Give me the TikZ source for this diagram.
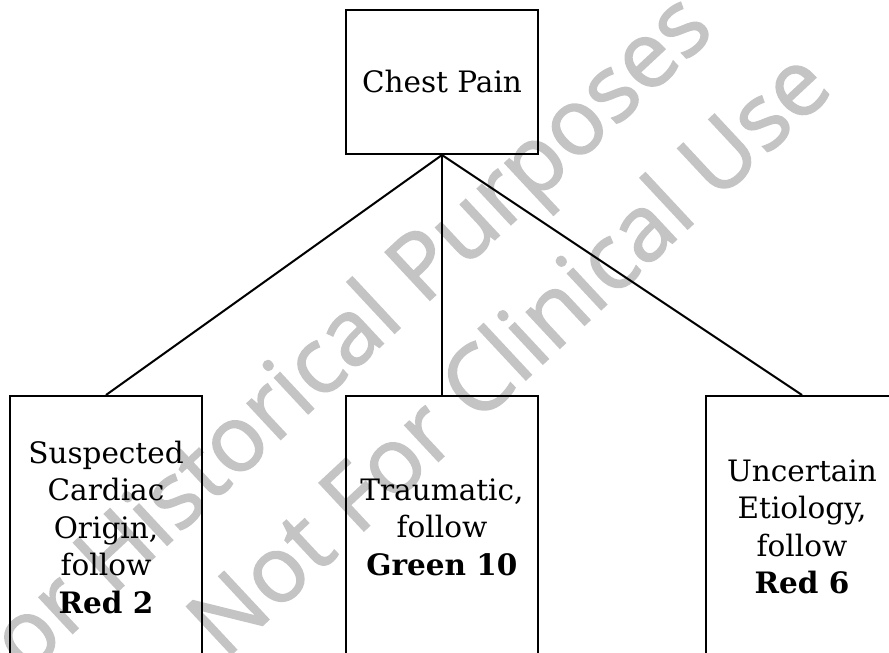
\documentclass[tikz,border=0pt]{standalone}
\usepackage{fontspec}
\setmainfont{DejaVu Serif}
\newfontfamily\wmfont[FakeBold=1.6]{Open Sans}
\begin{document}
\begin{tikzpicture}[x=1pt,y=-1pt]
        \useasboundingbox (0,0) rectangle (889,653);
        \clip (0,0) rectangle (889,653);

        \tikzstyle{watermark}=[text=black!23, font=\wmfont\fontsize{92}{124}\selectfont, rotate=43, anchor=base, inner sep=0pt]
        \node[watermark] (wmtop) at (354,371) {For Historical Purposes};
        \node[watermark] (wmbot) at (530,376) {Not For Clinical Use};

        \tikzstyle{box}=[rectangle, draw=black, line width=2pt, minimum width=192pt, align=center, inner sep=0pt, text=black, font=\fontsize{29.5}{37.5}\selectfont]
        \tikzstyle{edge}=[black, line width=2pt]

        \node[box, minimum height=144pt] (pain)      at (442,82)  {Chest Pain};
        \node[box, minimum height=262pt] (cardiac)   at (106,527) {Suspected\\Cardiac\\Origin,\\follow\\\textbf{Red 2}};
        \node[box, minimum height=262pt] (trauma)    at (442,527) {Traumatic,\\follow\\\textbf{Green 10}};
        \node[box, minimum height=262pt] (uncertain) at (802,527) {Uncertain\\Etiology,\\follow\\\textbf{Red 6}};

        \draw[edge] (pain.south) -- (cardiac.north);
        \draw[edge] (pain.south) -- (trauma.north);
        \draw[edge] (pain.south) -- (uncertain.north);
    \end{tikzpicture}
\end{document}
